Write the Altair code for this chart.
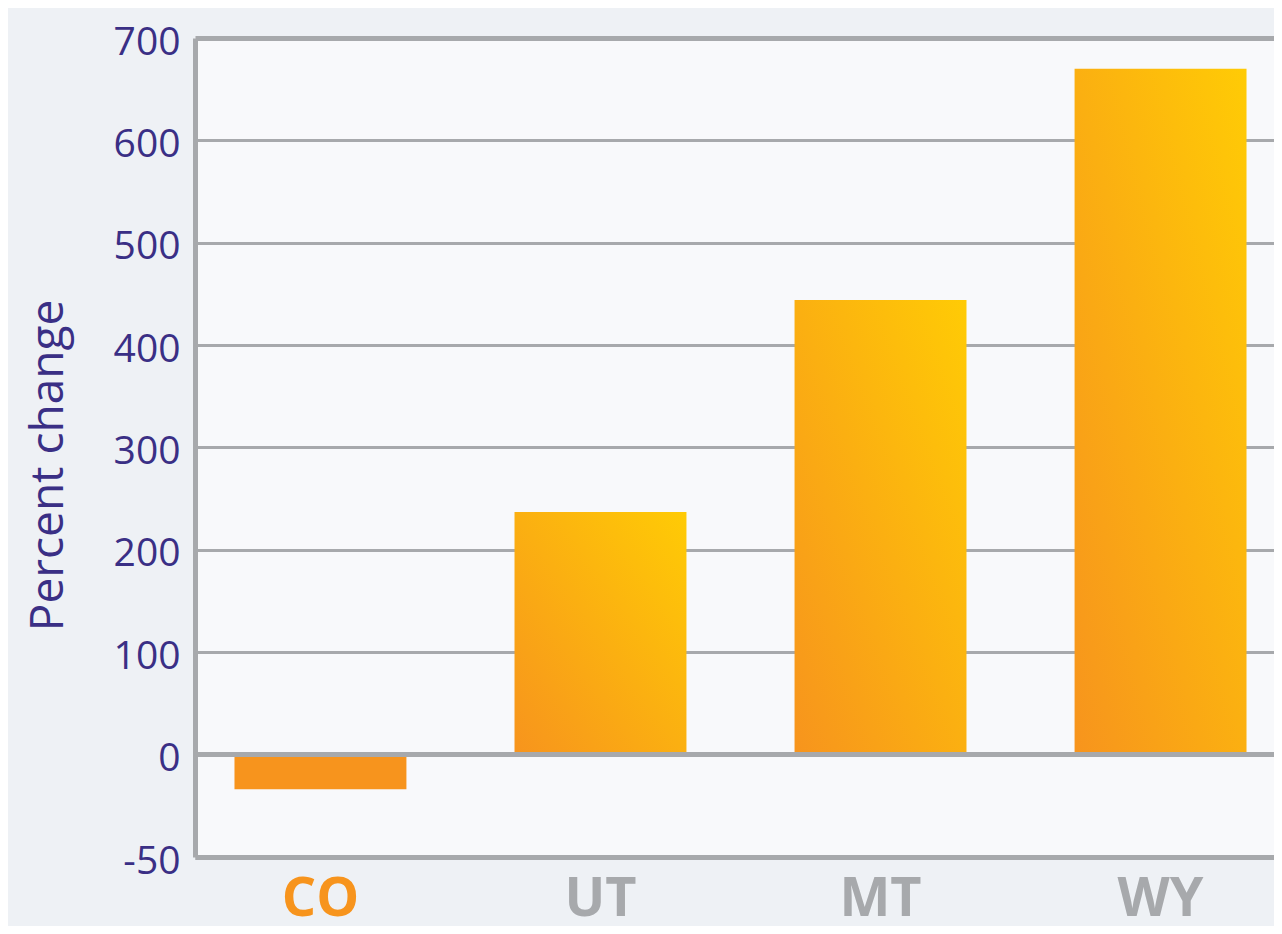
import altair as alt
import pandas as pd

# ---- data ----
states = ["CO", "UT", "MT", "WY"]
pct_change = [-17, 237, 444, 670]
y_ticks = [-50, 0, 100, 200, 300, 400, 500, 600, 700]

df = pd.DataFrame({"state": states, "change": pct_change})

PURPLE = "#3A2F85"
GRAY = "#A7A9AC"
ORANGE = "#F7941D"
YELLOW = "#FFCB05"

W, H = 1079, 819

x_enc = alt.X(
    "state:N",
    sort=states,
    title=None,
    scale=alt.Scale(range=[0, 1091], paddingInner=0.386, paddingOuter=0.141),
    axis=alt.Axis(
        domainColor=GRAY,
        domainWidth=5,
        ticks=False,
        tickSize=0,
        grid=False,
        labelAngle=0,
        labelFont="Open Sans",
        labelFontSize=54,
        labelFontWeight="bold",
        labelColor={"condition": {"test": "datum.value === 'CO'", "value": ORANGE}, "value": GRAY},
        labelBaseline="alphabetic",
        labelPadding=58,
    ),
)

y_enc = alt.Y(
    "change:Q",
    title="Percent change",
    scale=alt.Scale(domain=[-50, 0, 700], range=[H, 716.5, 0], nice=False, zero=False),
    axis=alt.Axis(
        values=y_ticks,
        labelExpr="datum.value < 0 ? '-' + abs(datum.value) : datum.label",
        domainColor=GRAY,
        domainWidth=5,
        ticks=False,
        tickSize=0,
        labelFont="Open Sans",
        labelFontSize=39,
        labelColor=PURPLE,
        labelPadding=15,
        labelOffset=4,
        gridColor=GRAY,
        gridWidth={"condition": {"test": "datum.value === 700 || datum.value === -50", "value": 5}, "value": 3},
        titleFont="Open Sans",
        titleFontSize=46,
        titleFontWeight="normal",
        titleColor=PURPLE,
        titleX=-133,
        titleY=427,
        titleAlign="center",
        titleBaseline="alphabetic",
    ),
)

grad = alt.Gradient(
    gradient="linear",
    stops=[alt.GradientStop(color=ORANGE, offset=0), alt.GradientStop(color=YELLOW, offset=1)],
    x1=0, y1=1, x2=1, y2=0,
)

base = alt.Chart(df)

pos_bars = base.transform_filter("datum.change > 0").mark_bar(color=grad).encode(x=x_enc, y=y_enc)
neg_bars = base.transform_filter("datum.change <= 0").mark_bar(color=ORANGE).encode(x=x_enc, y=y_enc)
zero_line = alt.Chart(pd.DataFrame({"v": [0]})).mark_rule(color=GRAY, strokeWidth=5).encode(y=alt.datum(0))

chart = (
    alt.layer(pos_bars, neg_bars, zero_line)
    .properties(
        width=W,
        height=H,
        background="#EEF1F5",
        padding={"left": 187, "top": 30, "right": 0, "bottom": 69},
        autosize=alt.AutoSizeParams(type="none"),
    )
    .configure_view(stroke=None, fill="#F8F9FB")
)

chart.save("out.html", embed_options={"renderer": "svg", "actions": False})
